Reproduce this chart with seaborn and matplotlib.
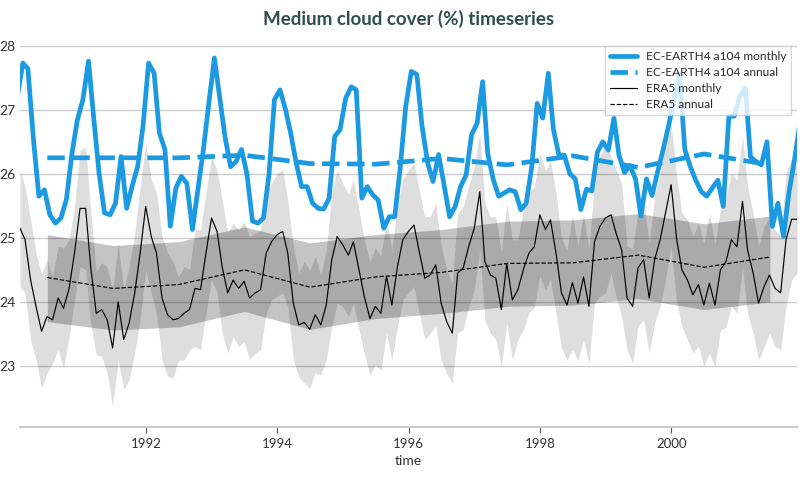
import numpy as np
import pandas as pd
import matplotlib
matplotlib.use("Agg")
import matplotlib.pyplot as plt
import matplotlib.dates as mdates
import seaborn as sns

# ---------------- data ----------------
ec_monthly = [
    27.2, 27.73, 27.64, 26.53, 25.65, 25.75, 25.36, 25.23, 25.31, 25.6, 26.32, 26.84,
    27.16, 27.76, 26.9, 26.0, 25.39, 25.36, 25.54, 26.27, 25.46, 25.8, 26.11, 26.74,
    27.73, 27.57, 26.64, 26.38, 25.18, 25.78, 25.96, 25.85, 25.13, 25.75, 26.38, 27.1,
    27.81, 27.16, 26.58, 26.11, 26.19, 26.38, 26.0, 25.26, 25.23, 25.31, 26.0, 27.16,
    27.31, 27.0, 26.64, 26.17, 25.8, 25.8, 25.54, 25.46, 25.45, 25.62, 26.58, 26.69,
    27.18, 27.36, 27.31, 25.62, 25.8, 25.67, 25.59, 25.15, 25.33, 25.33, 26.11, 27.05,
    27.6, 27.55, 26.74, 26.17, 25.88, 26.3, 25.83, 25.33, 25.49, 25.8, 25.98, 26.61,
    26.79, 27.44, 26.32, 25.91, 25.65, 25.7, 25.75, 25.72, 25.44, 25.54, 26.11, 27.1,
    26.87, 27.57, 26.7, 26.29, 26.29, 26.0, 25.92, 25.44, 25.76, 25.73, 26.34, 26.5,
    26.37, 26.87, 26.29, 26.02, 26.13, 25.92, 25.34, 25.92, 25.66, 26.02, 26.37, 26.74,
    27.14, 27.56, 26.38, 26.11, 25.9, 25.72, 25.65, 25.78, 25.9, 25.49, 26.9, 26.9,
    27.21, 27.34, 26.27, 26.19, 26.14, 26.5, 25.18, 25.54, 25.02, 25.7, 26.22, 26.79,
]

era_monthly = [
    25.15, 24.97, 24.34, 23.93, 23.54, 23.77, 23.72, 24.06, 23.9, 24.21, 24.76, 25.46,
    25.46, 24.55, 23.82, 23.88, 23.72, 23.28, 24.0, 23.41, 23.67, 24.14, 24.76, 25.49,
    25.02, 24.76, 24.06, 23.8, 23.72, 23.74, 23.82, 23.88, 24.21, 24.19, 24.76, 25.31,
    25.1, 24.55, 24.14, 24.34, 24.21, 24.32, 24.06, 24.14, 24.19, 24.76, 24.94, 25.05,
    25.1, 24.76, 23.98, 23.64, 23.68, 23.57, 23.8, 23.64, 23.95, 24.66, 25.02, 24.89,
    24.73, 24.94, 24.5, 24.08, 23.74, 23.93, 23.82, 24.4, 23.95, 24.55, 24.97, 25.1,
    25.2, 24.79, 24.37, 24.42, 24.58, 23.98, 23.69, 23.51, 24.45, 24.53, 24.86, 25.15,
    25.72, 24.63, 24.42, 24.37, 23.88, 24.6, 24.03, 24.19, 24.5, 24.76, 24.86, 25.36,
    25.13, 25.28, 24.76, 24.14, 23.95, 24.3, 23.98, 24.39, 23.93, 24.94, 25.18, 25.31,
    25.36, 25.07, 24.81, 24.06, 23.93, 24.53, 24.66, 24.06, 24.66, 24.97, 25.39, 25.83,
    24.97, 24.5, 24.34, 24.11, 24.27, 23.95, 24.29, 23.95, 24.5, 24.63, 24.97, 24.86,
    25.57, 24.81, 24.45, 23.98, 24.24, 24.42, 24.21, 24.14, 24.97, 25.29, 25.29,
]

era_monthly_sd = [
    0.91, 0.83, 0.94, 0.83, 0.89, 0.89, 0.68, 0.81, 0.94, 0.76, 0.73, 0.91,
    0.96, 0.89, 0.65, 0.73, 0.83, 0.91, 0.91, 0.78, 0.89, 0.94, 1.04, 0.99,
    0.89, 0.94, 0.96, 0.96, 0.91, 0.65, 0.73, 0.63, 0.91, 0.94, 0.94, 0.96,
    0.96, 1.04, 0.94, 0.89, 0.91, 0.94, 0.96, 0.94, 0.94, 0.94, 0.91, 0.96,
    0.96, 0.83, 0.89, 0.81, 0.95, 0.92, 0.91, 0.78, 0.86, 1.04, 1.04, 0.96,
    0.96, 0.96, 0.94, 0.89, 0.89, 0.91, 0.89, 0.89, 0.86, 0.94, 0.94, 0.96,
    0.96, 0.96, 0.96, 0.91, 0.96, 0.89, 0.81, 0.78, 0.94, 0.96, 0.94, 0.96,
    0.91, 0.91, 0.91, 0.96, 0.89, 0.94, 0.94, 0.78, 0.94, 0.94, 0.94, 0.96,
    0.94, 0.92, 0.94, 0.85, 0.86, 1.05, 0.89, 0.98, 0.89, 0.96, 1.09, 1.17,
    0.91, 0.99, 1.04, 0.81, 0.89, 0.91, 0.94, 0.86, 0.99, 1.04, 1.04, 0.96,
    0.99, 0.89, 0.94, 0.91, 0.96, 0.96, 1.09, 0.96, 0.94, 1.02, 1.04, 1.04,
    1.02, 0.99, 0.94, 0.89, 0.94, 0.91, 0.91, 0.89, 1.04, 0.95, 0.84,
]

years = list(range(1990, 2002))
ec_annual = [26.25, 26.25, 26.25, 26.29, 26.16, 26.15, 26.24, 26.14, 26.28, 26.10, 26.31, 26.14]
era_annual = [24.38, 24.21, 24.27, 24.50, 24.23, 24.39, 24.46, 24.60, 24.61, 24.73, 24.54, 24.70]
era_annual_hi = [25.05, 24.88, 24.94, 25.17, 24.92, 25.05, 25.13, 25.26, 25.28, 25.38, 25.22, 25.34]
era_annual_lo = [23.69, 23.56, 23.61, 23.85, 23.57, 23.74, 23.82, 23.93, 23.95, 24.05, 23.88, 24.00]

title = "Medium cloud cover (%) timeseries"
xlabel = "time"
labels = ["EC-EARTH4 a104 monthly", "EC-EARTH4 a104 annual", "ERA5 monthly", "ERA5 annual"]

# ---------------- time axes ----------------
ec_time = pd.date_range("1990-01-01", periods=len(ec_monthly), freq="MS") + pd.Timedelta(days=15)
era_time = pd.date_range("1990-02-01", periods=len(era_monthly), freq="MS") - pd.Timedelta(days=1)
ann_time = pd.to_datetime([f"{y}-07-02" for y in years])

era_m = np.array(era_monthly)
era_sd = np.array(era_monthly_sd)

# ---------------- plot ----------------
sns.set_theme(style="white")
plt.rcParams["font.family"] = ["Lato", "DejaVu Sans"]

BLUE = "#1b9ae2"
fig = plt.figure(figsize=(8.05, 4.78), dpi=100)
ax = fig.add_axes([20 / 805, 51.3 / 478, 777 / 805, 386.7 / 478])

ax.fill_between(era_time, era_m - era_sd, era_m + era_sd, color="black", alpha=0.13, lw=0, zorder=1)
ax.fill_between(ann_time, era_annual_lo, era_annual_hi, color="black", alpha=0.23, lw=0, zorder=1.1)

sns.lineplot(x=ec_time, y=ec_monthly, ax=ax, color=BLUE, lw=3.4, label=labels[0], zorder=3)
sns.lineplot(x=ann_time, y=ec_annual, ax=ax, color=BLUE, lw=3.4, linestyle="--", label=labels[1], zorder=3)
sns.lineplot(x=era_time, y=era_monthly, ax=ax, color="black", lw=0.85, label=labels[2], zorder=4)
sns.lineplot(x=ann_time, y=era_annual, ax=ax, color="black", lw=0.85, linestyle="--", label=labels[3], zorder=4)

ax.set_xlim(era_time[0], era_time[-1])
ax.set_ylim(22.05, 28.09)
ax.set_yticks([23, 24, 25, 26, 27, 28])
ax.xaxis.set_major_locator(mdates.YearLocator(2))
ax.xaxis.set_major_formatter(mdates.DateFormatter("%Y"))

ax.yaxis.grid(True, color="#cccccc", lw=1.0)
ax.xaxis.grid(False)
ax.set_axisbelow(True)
for s in ["left", "right", "top"]:
    ax.spines[s].set_visible(False)
ax.spines["bottom"].set_color("#cccccc")
ax.spines["bottom"].set_linewidth(1.4)

ax.tick_params(axis="x", bottom=True, length=4, width=0.8, color="#555555",
               labelsize=9.5, labelcolor="#333333", pad=4)
ax.tick_params(axis="y", left=False, length=0, labelsize=10, labelcolor="#333333", pad=3)

ax.set_xlabel(xlabel, fontsize=10, color="#333333", labelpad=4)
ax.set_ylabel("")
ax.set_title(title, fontsize=13.5, fontweight="bold", color="#2f4f4f", pad=11)

leg = ax.legend(loc="upper right", fontsize=8.6, frameon=True, fancybox=False,
                framealpha=0.8, edgecolor="#cccccc", labelspacing=0.42,
                handlelength=2.3, handletextpad=0.7, borderpad=0.4, borderaxespad=0.5)
leg.get_frame().set_linewidth(1.0)

fig.savefig("out.png", dpi=100)
